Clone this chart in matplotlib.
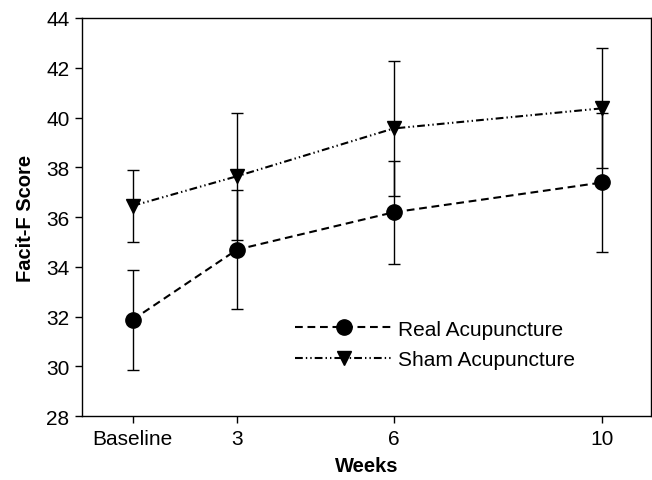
import matplotlib
matplotlib.use('Agg')
import matplotlib.pyplot as plt
import numpy as np

# weeks (baseline drawn at week 1 position)
weeks = [1, 3, 6, 10]
week_labels = ['Baseline', '3', '6', '10']

real_mean = [31.87, 34.69, 36.19, 37.39]
real_err = [2.0, 2.4, 2.07, 2.8]

sham_mean = [36.45, 37.64, 39.56, 40.37]
sham_err = [1.45, 2.55, 2.72, 2.41]

plt.rcParams['font.family'] = ['Liberation Sans', 'DejaVu Sans']
plt.rcParams['lines.scale_dashes'] = False

fig = plt.figure(figsize=(6.52, 4.81), dpi=100)
ax = fig.add_axes([0.1258, 0.133, 0.8727, 0.8275])

# error bars
ax.errorbar(weeks, real_mean, yerr=real_err, fmt='none', ecolor='black',
            elinewidth=1.0, capsize=4.5, capthick=1.0, zorder=2)
ax.errorbar(weeks, sham_mean, yerr=sham_err, fmt='none', ecolor='black',
            elinewidth=1.0, capsize=4.5, capthick=1.0, zorder=2)

ax.plot(weeks, real_mean, color='black', lw=1.5, dashes=(5.6, 3.4),
        marker='o', markersize=11, label='Real Acupuncture', zorder=3)
ax.plot(weeks, sham_mean, color='black', lw=1.5,
        dashes=(5.6, 2.2, 1.0, 2.2, 1.0, 2.2),
        marker='v', markersize=10.5, label='Sham Acupuncture', zorder=3)

ax.set_xlim(0.03, 10.93)
ax.set_ylim(28, 44)
ax.set_yticks(np.arange(28, 45, 2))
ax.set_xticks(weeks)
ax.set_xticklabels(week_labels)
ax.tick_params(axis='both', labelsize=15, length=5, width=1.0, direction='out', pad=4)

for s in ax.spines.values():
    s.set_linewidth(1.0)

ax.set_xlabel('Weeks', fontsize=14.5, fontweight='bold', labelpad=6)
ax.set_ylabel('Facit-F Score', fontsize=14.5, fontweight='bold', labelpad=8)

ax.legend(loc='upper left', bbox_to_anchor=(0.374, 0.242), frameon=False,
          fontsize=15, handlelength=4.7, handletextpad=0.25, labelspacing=0.55,
          borderpad=0, borderaxespad=0)

plt.savefig('out.png', dpi=100)
